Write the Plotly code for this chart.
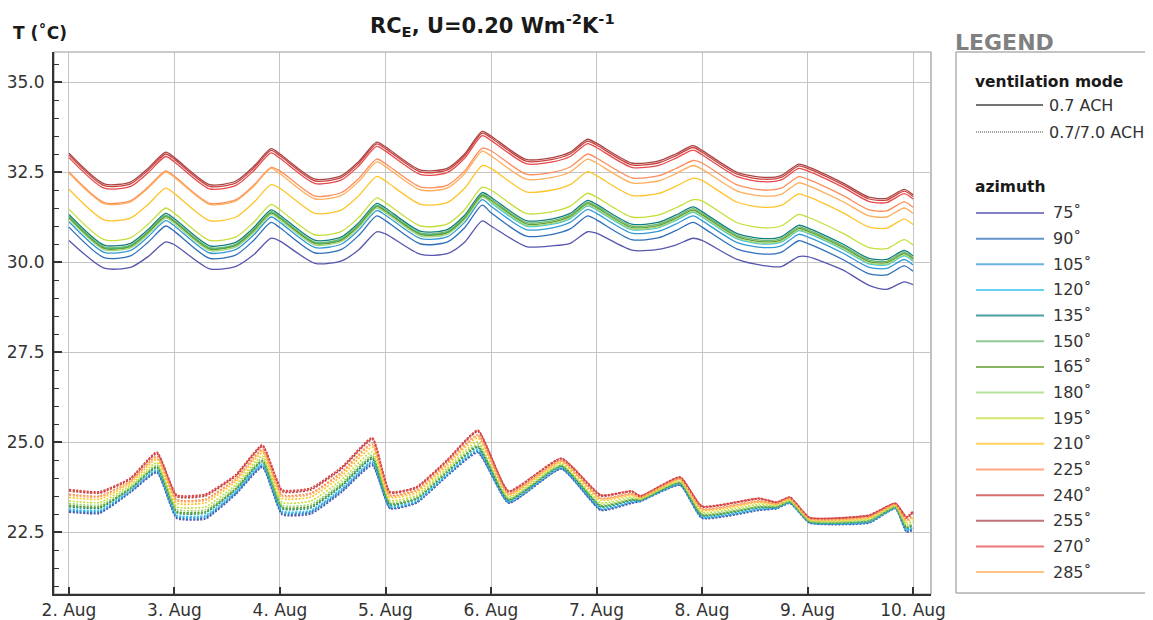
import plotly.graph_objects as go
from datetime import datetime, timedelta

# ---------------- data ----------------
azimuths = [75, 90, 105, 120, 135, 150, 165, 180, 195, 210, 225, 240, 255, 270, 285]
az_colors = ["#5656ae", "#2f6fba", "#3399d6", "#33c4ee", "#11807f", "#6cb870", "#5f9e2e",
             "#9fd67a", "#c6de3a", "#ffc42a", "#ff8c5a", "#cc4040", "#a84545", "#e84a4a", "#ffae5a"]

start_date = datetime(2020, 8, 2)
day_ticks = [2, 3, 4, 5, 6, 7, 8, 9, 10]
day_labels = ["2. Aug", "3. Aug", "4. Aug", "5. Aug", "6. Aug", "7. Aug", "8. Aug", "9. Aug", "10. Aug"]

# hours after 2 Aug 00:00
solid_hours = [0, 8, 14, 18, 22, 24, 32, 38, 42, 46, 48, 56, 62, 66, 70, 72, 80, 86, 90, 94,
               96, 104, 110, 114, 118, 120, 128, 134, 138, 142, 144, 152, 158, 162, 166,
               168, 176, 182, 186, 190, 192]
dotted_hours = [0, 7, 14, 20, 24.5, 31, 38, 44, 48.5, 55, 62, 69, 73, 79, 86, 93, 100, 112,
                121, 128, 130, 139, 144, 157, 161, 164, 168.5, 182, 188, 190.5, 192]

# ventilation 0.7 ACH (solid)
solid_075 = [30.60, 29.83, 29.85, 30.15, 30.56, 30.48, 29.81, 29.88, 30.20, 30.66,
             30.58, 29.96, 30.03, 30.35, 30.84, 30.78, 30.21, 30.23, 30.55, 31.14,
             31.00, 30.43, 30.45, 30.52, 30.84, 30.80, 30.33, 30.35, 30.47, 30.66,
             30.60, 30.07, 29.90, 29.87, 30.15, 30.15, 29.78, 29.35, 29.24, 29.45, 29.37]
solid_090 = [30.97, 30.12, 30.17, 30.55, 31.00, 30.85, 30.10, 30.20, 30.60, 31.10,
             30.95, 30.25, 30.35, 30.75, 31.28, 31.15, 30.50, 30.55, 30.95, 31.58,
             31.37, 30.72, 30.77, 30.92, 31.28, 31.17, 30.62, 30.67, 30.87, 31.10,
             30.97, 30.36, 30.22, 30.27, 30.59, 30.52, 30.07, 29.67, 29.64, 29.89, 29.74]
solid_105 = [31.12, 30.27, 30.32, 30.70, 31.15, 31.00, 30.25, 30.35, 30.75, 31.25,
             31.10, 30.40, 30.50, 30.90, 31.43, 31.30, 30.65, 30.70, 31.10, 31.73,
             31.55, 30.90, 30.95, 31.10, 31.46, 31.35, 30.80, 30.85, 31.05, 31.28,
             31.15, 30.54, 30.40, 30.45, 30.77, 30.70, 30.25, 29.85, 29.82, 30.07, 29.92]
solid_120 = [31.25, 30.40, 30.45, 30.83, 31.28, 31.13, 30.38, 30.48, 30.88, 31.38,
             31.23, 30.53, 30.63, 31.03, 31.56, 31.43, 30.78, 30.83, 31.23, 31.86,
             31.65, 31.00, 31.05, 31.20, 31.56, 31.45, 30.90, 30.95, 31.15, 31.38,
             31.25, 30.64, 30.50, 30.55, 30.87, 30.80, 30.35, 29.95, 29.92, 30.17, 30.02]
solid_135 = [31.32, 30.47, 30.52, 30.90, 31.35, 31.20, 30.45, 30.55, 30.95, 31.45,
             31.30, 30.60, 30.70, 31.10, 31.63, 31.50, 30.85, 30.90, 31.30, 31.93,
             31.80, 31.15, 31.20, 31.35, 31.71, 31.60, 31.05, 31.10, 31.30, 31.53,
             31.40, 30.79, 30.65, 30.70, 31.02, 30.95, 30.50, 30.10, 30.07, 30.32, 30.17]
solid_150 = [31.27, 30.42, 30.47, 30.85, 31.30, 31.15, 30.40, 30.50, 30.90, 31.40,
             31.25, 30.55, 30.65, 31.05, 31.58, 31.45, 30.80, 30.85, 31.25, 31.88,
             31.75, 31.10, 31.15, 31.30, 31.66, 31.55, 31.00, 31.05, 31.25, 31.48,
             31.35, 30.74, 30.60, 30.65, 30.97, 30.90, 30.45, 30.05, 30.02, 30.27, 30.12]
solid_165 = [31.23, 30.38, 30.43, 30.81, 31.26, 31.11, 30.36, 30.46, 30.86, 31.36,
             31.21, 30.51, 30.61, 31.01, 31.54, 31.41, 30.76, 30.81, 31.21, 31.84,
             31.71, 31.06, 31.11, 31.26, 31.62, 31.51, 30.96, 31.01, 31.21, 31.44,
             31.31, 30.70, 30.56, 30.61, 30.93, 30.86, 30.41, 30.01, 29.98, 30.23, 30.08]
solid_180 = [31.19, 30.34, 30.39, 30.77, 31.22, 31.07, 30.32, 30.42, 30.82, 31.32,
             31.17, 30.47, 30.57, 30.97, 31.50, 31.37, 30.72, 30.77, 31.17, 31.80,
             31.67, 31.02, 31.07, 31.22, 31.58, 31.47, 30.92, 30.97, 31.17, 31.40,
             31.27, 30.66, 30.52, 30.57, 30.89, 30.82, 30.37, 29.97, 29.94, 30.19, 30.04]
solid_195 = [31.47, 30.62, 30.67, 31.05, 31.50, 31.35, 30.60, 30.70, 31.10, 31.60,
             31.45, 30.75, 30.85, 31.25, 31.78, 31.65, 31.00, 31.05, 31.45, 32.08,
             32.00, 31.35, 31.40, 31.55, 31.91, 31.80, 31.25, 31.30, 31.50, 31.73,
             31.70, 31.09, 30.95, 31.00, 31.32, 31.25, 30.80, 30.40, 30.37, 30.62, 30.47]
solid_210 = [32.02, 31.17, 31.22, 31.60, 32.05, 31.90, 31.15, 31.25, 31.65, 32.15,
             32.05, 31.35, 31.45, 31.85, 32.38, 32.25, 31.60, 31.65, 32.05, 32.68,
             32.60, 31.95, 32.00, 32.15, 32.51, 32.40, 31.85, 31.90, 32.10, 32.33,
             32.27, 31.66, 31.52, 31.57, 31.89, 31.82, 31.37, 30.97, 30.94, 31.19, 31.04]
solid_225 = [32.50, 31.65, 31.70, 32.08, 32.53, 32.38, 31.63, 31.73, 32.13, 32.63,
             32.53, 31.83, 31.93, 32.33, 32.86, 32.73, 32.08, 32.13, 32.53, 33.16,
             33.09, 32.44, 32.49, 32.64, 33.00, 32.89, 32.34, 32.39, 32.59, 32.82,
             32.75, 32.14, 32.00, 32.05, 32.37, 32.30, 31.85, 31.45, 31.42, 31.67, 31.52]
solid_240 = [32.97, 32.12, 32.17, 32.55, 33.00, 32.85, 32.10, 32.20, 32.60, 33.10,
             32.95, 32.25, 32.35, 32.75, 33.28, 33.15, 32.50, 32.55, 32.95, 33.58,
             33.45, 32.80, 32.85, 33.00, 33.36, 33.25, 32.70, 32.75, 32.95, 33.18,
             33.05, 32.44, 32.30, 32.35, 32.67, 32.60, 32.15, 31.75, 31.72, 31.97, 31.82]
solid_255 = [33.02, 32.17, 32.22, 32.60, 33.05, 32.90, 32.15, 32.25, 32.65, 33.15,
             33.00, 32.30, 32.40, 32.80, 33.33, 33.20, 32.55, 32.60, 33.00, 33.63,
             33.50, 32.85, 32.90, 33.05, 33.41, 33.30, 32.75, 32.80, 33.00, 33.23,
             33.10, 32.49, 32.35, 32.40, 32.72, 32.65, 32.20, 31.80, 31.77, 32.02, 31.87]
solid_270 = [32.90, 32.05, 32.10, 32.48, 32.93, 32.78, 32.03, 32.13, 32.53, 33.03,
             32.88, 32.18, 32.28, 32.68, 33.21, 33.08, 32.43, 32.48, 32.88, 33.51,
             33.38, 32.73, 32.78, 32.93, 33.29, 33.18, 32.63, 32.68, 32.88, 33.11,
             32.98, 32.37, 32.23, 32.28, 32.60, 32.53, 32.08, 31.68, 31.65, 31.90, 31.75]
solid_285 = [32.47, 31.62, 31.67, 32.05, 32.50, 32.35, 31.60, 31.70, 32.10, 32.60,
             32.45, 31.75, 31.85, 32.25, 32.78, 32.65, 32.00, 32.05, 32.45, 33.08,
             32.95, 32.30, 32.35, 32.50, 32.86, 32.75, 32.20, 32.25, 32.45, 32.68,
             32.58, 31.97, 31.83, 31.88, 32.20, 32.13, 31.68, 31.28, 31.25, 31.50, 31.35]

# ventilation 0.7/7.0 ACH (dotted)
dotted_075 = [23.05, 23.02, 23.60, 24.15, 22.88, 22.86, 23.55, 24.30, 22.98, 23.00, 23.60,
              24.35, 23.15, 23.30, 24.05, 24.70, 23.30, 24.25, 23.10, 23.30, 23.35, 23.80,
              22.88, 23.10, 23.15, 23.30, 22.75, 22.75, 23.15, 22.50, 22.55]
dotted_090 = [23.08, 23.05, 23.62, 24.18, 22.91, 22.89, 23.58, 24.33, 23.01, 23.04, 23.63,
              24.39, 23.17, 23.32, 24.07, 24.73, 23.32, 24.26, 23.12, 23.32, 23.36, 23.81,
              22.90, 23.12, 23.16, 23.31, 22.76, 22.76, 23.16, 22.52, 22.58]
dotted_105 = [23.11, 23.08, 23.64, 24.21, 22.94, 22.93, 23.60, 24.36, 23.05, 23.07, 23.67,
              24.43, 23.20, 23.34, 24.09, 24.76, 23.33, 24.28, 23.14, 23.33, 23.36, 23.82,
              22.91, 23.13, 23.17, 23.32, 22.76, 22.77, 23.16, 22.54, 22.60]
dotted_120 = [23.14, 23.10, 23.66, 24.23, 22.97, 22.96, 23.63, 24.39, 23.08, 23.10, 23.70,
              24.46, 23.22, 23.36, 24.11, 24.79, 23.35, 24.29, 23.16, 23.35, 23.37, 23.83,
              22.93, 23.15, 23.18, 23.32, 22.77, 22.78, 23.17, 22.56, 22.62]
dotted_135 = [23.20, 23.16, 23.70, 24.29, 23.04, 23.03, 23.68, 24.45, 23.15, 23.17, 23.77,
              24.53, 23.26, 23.41, 24.16, 24.85, 23.38, 24.32, 23.20, 23.38, 23.39, 23.86,
              22.96, 23.18, 23.19, 23.34, 22.79, 22.80, 23.19, 22.60, 22.68]
dotted_150 = [23.23, 23.19, 23.71, 24.31, 23.06, 23.05, 23.70, 24.47, 23.17, 23.20, 23.80,
              24.57, 23.28, 23.43, 24.18, 24.88, 23.40, 24.33, 23.22, 23.40, 23.39, 23.86,
              22.98, 23.20, 23.20, 23.35, 22.79, 22.81, 23.19, 22.62, 22.70]
dotted_165 = [23.24, 23.20, 23.72, 24.32, 23.07, 23.07, 23.71, 24.49, 23.19, 23.22, 23.81,
              24.58, 23.29, 23.43, 24.18, 24.89, 23.40, 24.34, 23.23, 23.40, 23.39, 23.87,
              22.98, 23.20, 23.20, 23.35, 22.79, 22.82, 23.19, 22.63, 22.71]
dotted_180 = [23.29, 23.25, 23.75, 24.37, 23.13, 23.12, 23.76, 24.54, 23.24, 23.27, 23.87,
              24.64, 23.33, 23.47, 24.22, 24.94, 23.43, 24.36, 23.26, 23.43, 23.41, 23.89,
              23.01, 23.23, 23.22, 23.36, 22.81, 22.83, 23.21, 22.66, 22.75]
dotted_195 = [23.36, 23.32, 23.80, 24.43, 23.20, 23.20, 23.82, 24.61, 23.32, 23.36, 23.95,
              24.73, 23.38, 23.52, 24.27, 25.01, 23.47, 24.40, 23.31, 23.47, 23.42, 23.91,
              23.05, 23.27, 23.24, 23.38, 22.82, 22.86, 23.22, 22.71, 22.81]
dotted_210 = [23.46, 23.41, 23.86, 24.52, 23.30, 23.31, 23.91, 24.70, 23.43, 23.47, 24.05,
              24.85, 23.46, 23.59, 24.34, 25.11, 23.52, 24.44, 23.38, 23.52, 23.45, 23.95,
              23.10, 23.32, 23.27, 23.41, 22.85, 22.89, 23.25, 22.77, 22.89]
dotted_225 = [23.55, 23.50, 23.92, 24.61, 23.40, 23.41, 23.99, 24.80, 23.53, 23.58, 24.16,
              24.97, 23.53, 23.66, 24.41, 25.20, 23.57, 24.49, 23.44, 23.57, 23.47, 23.98,
              23.15, 23.37, 23.29, 23.44, 22.87, 22.93, 23.27, 22.84, 22.97]
dotted_240 = [23.68, 23.62, 24.00, 24.72, 23.53, 23.55, 24.10, 24.92, 23.67, 23.72, 24.30,
              25.12, 23.62, 23.75, 24.50, 25.33, 23.64, 24.55, 23.53, 23.64, 23.50, 24.03,
              23.22, 23.44, 23.33, 23.47, 22.90, 22.97, 23.30, 22.92, 23.08]
dotted_255 = [23.64, 23.58, 23.97, 24.68, 23.48, 23.50, 24.06, 24.88, 23.62, 23.67, 24.25,
              25.07, 23.59, 23.72, 24.47, 25.29, 23.62, 24.53, 23.50, 23.62, 23.49, 24.01,
              23.20, 23.42, 23.32, 23.46, 22.89, 22.95, 23.29, 22.89, 23.04]
dotted_270 = [23.66, 23.60, 23.99, 24.70, 23.51, 23.53, 24.08, 24.90, 23.65, 23.70, 24.28,
              25.10, 23.61, 23.74, 24.49, 25.31, 23.63, 24.54, 23.52, 23.63, 23.50, 24.02,
              23.21, 23.43, 23.32, 23.46, 22.90, 22.96, 23.30, 22.91, 23.06]
dotted_285 = [23.52, 23.47, 23.90, 24.58, 23.37, 23.38, 23.96, 24.76, 23.50, 23.54, 24.12,
              24.93, 23.50, 23.64, 24.39, 25.17, 23.55, 24.47, 23.42, 23.55, 23.46, 23.97,
              23.13, 23.35, 23.28, 23.43, 22.86, 22.91, 23.26, 22.81, 22.95]

solid_series = [solid_075, solid_090, solid_105, solid_120, solid_135, solid_150, solid_165,
                solid_180, solid_195, solid_210, solid_225, solid_240, solid_255, solid_270, solid_285]
dotted_series = [dotted_075, dotted_090, dotted_105, dotted_120, dotted_135, dotted_150, dotted_165,
                 dotted_180, dotted_195, dotted_210, dotted_225, dotted_240, dotted_255, dotted_270, dotted_285]

# ---------------- figure ----------------
# reference-picture pixel geometry; the page body adds an 8 px offset, so the figure is
# made 8 px smaller and every pixel position is expressed relative to the plot area.
OFF = 8
WIN_W, WIN_H = 1153, 620
W, H = WIN_W - OFF, WIN_H - OFF
L, R, T, B = 54, 931, 52, 594   # plot area in reference pixels


def px(x):
    return (x - L) / (R - L)


def py(y):
    return (B - y) / (B - T)


solid_x = [start_date + timedelta(hours=h) for h in solid_hours]
dotted_x = [start_date + timedelta(hours=h) for h in dotted_hours]

fig = go.Figure()
for az, col, ys in zip(azimuths, az_colors, dotted_series):
    fig.add_trace(go.Scatter(x=dotted_x, y=ys, mode="lines", name=f"{az}° (0.7/7.0 ACH)",
                             line=dict(color=col, width=1.6, dash="2px,1.5px",
                                       shape="spline", smoothing=0.45),
                             showlegend=False, hoverinfo="x+y+name"))
for az, col, ys in zip(azimuths, az_colors, solid_series):
    fig.add_trace(go.Scatter(x=solid_x, y=ys, mode="lines", name=f"{az}° (0.7 ACH)",
                             line=dict(color=col, width=1.3, shape="spline", smoothing=0.7),
                             showlegend=False, hoverinfo="x+y+name"))

FONT = "DejaVu Sans"
TXT = "#333333"
GRID = "#c4c4c4"

x_range = [start_date - timedelta(hours=15 / 105.6 * 24),
           start_date + timedelta(hours=8 * 24 + 18 / 105.6 * 24)]
y_range = [22.5 - (B - 532) / 36.0, 35.0 + (82 - T) / 36.0]

fig.update_layout(
    width=W, height=H,
    margin=dict(l=L - OFF, r=W - (R - OFF), t=T - OFF, b=H - (B - OFF), pad=0, autoexpand=False),
    paper_bgcolor="white", plot_bgcolor="white",
    showlegend=False,
    font=dict(family=FONT, color=TXT),
    xaxis=dict(type="date", range=x_range,
               tickmode="array",
               tickvals=[datetime(2020, 8, d) for d in day_ticks], ticktext=day_labels,
               showgrid=True, gridcolor=GRID, gridwidth=1.3,
               showline=True, linecolor=TXT, linewidth=2,
               ticks="inside", ticklen=7, tickwidth=2, tickcolor=TXT,
               tickfont=dict(family=FONT, size=17, color=TXT), zeroline=False,
               automargin=False),
    yaxis=dict(range=y_range, tick0=22.5, dtick=2.5, tickformat=".1f",
               showgrid=True, gridcolor=GRID, gridwidth=1.3,
               showline=True, linecolor=TXT, linewidth=2,
               ticks="inside", ticklen=8, tickwidth=2, tickcolor=TXT,
               ticklabelstandoff=4, automargin=False,
               tickfont=dict(family=FONT, size=17, color=TXT), zeroline=False,
               minor=dict(dtick=0.5, tick0=0, ticks="inside", ticklen=5, tickwidth=1,
                          tickcolor=TXT, showgrid=False)),
)

shapes = []
# plot frame (top/right)
shapes.append(dict(type="rect", xref="paper", yref="paper", x0=0, x1=1, y0=0, y1=1,
                   line=dict(color="#999999", width=1.2), layer="below"))
# legend box
box_col = "#b0b0b0"
shapes.append(dict(type="line", xref="paper", yref="paper", x0=px(956), x1=px(1170),
                   y0=py(52), y1=py(52), line=dict(color=box_col, width=1.5)))
shapes.append(dict(type="line", xref="paper", yref="paper", x0=px(956), x1=px(956),
                   y0=py(52), y1=py(593), line=dict(color=box_col, width=1.5)))
shapes.append(dict(type="line", xref="paper", yref="paper", x0=px(956), x1=px(1170),
                   y0=py(593), y1=py(593), line=dict(color=box_col, width=1.5)))

annotations = []
# chart title (centred over the plot area)
annotations.append(dict(text="<b>RC<sub>E</sub>, U=0.20 Wm<sup>-2</sup>K<sup>-1</sup></b>",
                        xref="paper", yref="paper", x=0.5, y=py(25),
                        xanchor="center", yanchor="middle", showarrow=False,
                        font=dict(family=FONT, size=21, color="#1a1a1a")))
annotations.append(dict(text="<b>T (˚C)</b>", xref="paper", yref="paper", x=px(11), y=py(32),
                        xanchor="left", yanchor="middle", showarrow=False,
                        font=dict(family=FONT, size=17, color="#1a1a1a")))
annotations.append(dict(text="<b>LEGEND</b>", xref="paper", yref="paper", x=px(953), y=py(43),
                        xanchor="left", yanchor="middle", showarrow=False,
                        font=dict(family=FONT, size=22, color="#808080")))
annotations.append(dict(text="<b>ventilation mode</b>", xref="paper", yref="paper", x=px(973),
                        y=py(82), xanchor="left", yanchor="middle", showarrow=False,
                        font=dict(family=FONT, size=15.5, color="#1a1a1a")))
annotations.append(dict(text="<b>azimuth</b>", xref="paper", yref="paper", x=px(973),
                        y=py(187), xanchor="left", yanchor="middle", showarrow=False,
                        font=dict(family=FONT, size=15.5, color="#1a1a1a")))

vent_entries = [("0.7 ACH", "solid", 105), ("0.7/7.0 ACH", "dot", 132)]
for label, dash, yy in vent_entries:
    shapes.append(dict(type="line", xref="paper", yref="paper", x0=px(976), x1=px(1043),
                       y0=py(yy), y1=py(yy),
                       line=dict(color="#444444", width=1.3 if dash == "solid" else 1.2,
                                 dash="solid" if dash == "solid" else "1px,1px")))
    annotations.append(dict(text=label, xref="paper", yref="paper", x=px(1047), y=py(yy),
                            xanchor="left", yanchor="middle", showarrow=False,
                            font=dict(family=FONT, size=16, color=TXT)))

for i, (az, col) in enumerate(zip(azimuths, az_colors)):
    yy = 213 + i * 25.65
    shapes.append(dict(type="line", xref="paper", yref="paper", x0=px(976), x1=px(1044),
                       y0=py(yy), y1=py(yy), opacity=0.75,
                       line=dict(color=col, width=2)))
    annotations.append(dict(text=f"{az}˚", xref="paper", yref="paper", x=px(1051), y=py(yy),
                            xanchor="left", yanchor="middle", showarrow=False,
                            font=dict(family=FONT, size=16, color=TXT)))

fig.update_layout(shapes=shapes, annotations=annotations)
fig.write_html("out.html")
